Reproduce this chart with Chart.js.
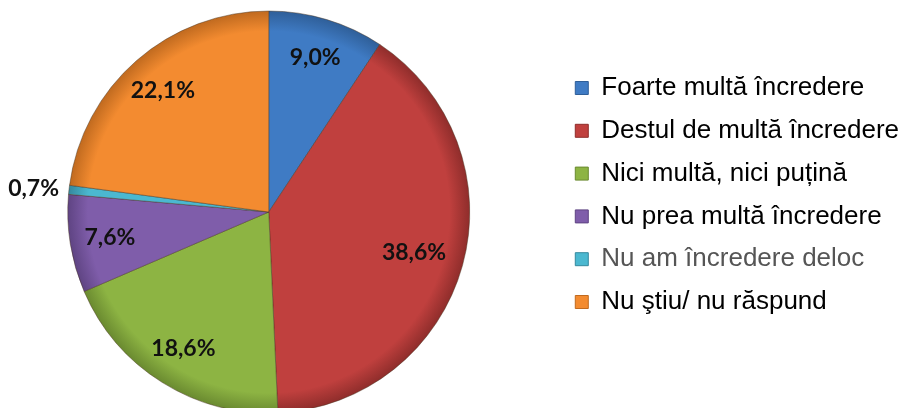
<!DOCTYPE html>
<html lang="ro">
<head>
<meta charset="UTF-8">
<title>Pie</title>
<style>
  html, body { margin: 0; padding: 0; background: #fff; }
</style>
</head>
<body>
<canvas id="myChart" width="909" height="408"></canvas>
<script src="https://cdn.jsdelivr.net/npm/chart.js@4.4.0/dist/chart.umd.min.js"></script>
<script>
const labels = ['Foarte multă încredere', 'Destul de multă încredere', 'Nici multă, nici puțină',
  'Nu prea multă încredere', 'Nu am încredere deloc', 'Nu ştiu/ nu răspund'];
const values = [9.0, 38.6, 18.6, 7.6, 0.7, 22.1];
const colors = ['#3f7bc4', '#c0403e', '#8db443', '#7f5daa', '#4bb8d0', '#f38b30'];
const edgeColors = ['#2f5f99', '#8f2d2b', '#6a8a30', '#5f4483', '#35899e', '#c06a1f'];

// percent labels inside the slices (small ones go outside)
const pctLabels = {
  id: 'pctLabels',
  afterDatasetsDraw(chart) {
    const ctx = chart.ctx;
    const meta = chart.getDatasetMeta(0);
    ctx.save();
    ctx.font = 'bold 23px Lato';
    ctx.fillStyle = '#111';
    ctx.textBaseline = 'middle';
    meta.data.forEach((arc, i) => {
      const p = arc.getProps(['x', 'y', 'startAngle', 'endAngle', 'outerRadius'], true);
      const mid = (p.startAngle + p.endAngle) / 2;
      const text = values[i].toFixed(1).replace('.', ',') + '%';
      if (values[i] < 2) {
        const r = p.outerRadius + 10;
        ctx.textAlign = 'right';
        ctx.fillText(text, p.x + r * Math.cos(mid), p.y + r * Math.sin(mid));
      } else {
        const r = p.outerRadius * (values[i] > 30 ? 0.75 : 0.8);
        ctx.textAlign = 'center';
        ctx.fillText(text, p.x + r * Math.cos(mid), p.y + r * Math.sin(mid));
      }
    });
    ctx.restore();
  }
};

// slightly darker rim, a bit like the bevelled office pie
function sliceFill(c) {
  const i = c.dataIndex;
  const area = c.chart.chartArea;
  if (!area || i === undefined) return colors[i];
  const cx = (area.left + area.right) / 2, cy = (area.top + area.bottom) / 2;
  const g = c.chart.ctx.createRadialGradient(cx, cy, 0, cx, cy, 201);
  g.addColorStop(0, colors[i]);
  g.addColorStop(0.9, colors[i]);
  g.addColorStop(1, edgeColors[i]);
  return g;
}

const ctx = document.getElementById('myChart').getContext('2d');
const chart = new Chart(ctx, {
  type: 'pie',
  data: {
    labels: labels,
    datasets: [{
      data: values,
      backgroundColor: sliceFill,
      borderColor: 'rgba(70,50,30,0.45)',
      borderWidth: 1,
      radius: 201,
      clip: false
    }]
  },
  options: {
    responsive: false,
    animation: false,
    layout: { padding: { left: 0, right: 0, top: 0, bottom: 18 } },
    plugins: {
      // blank title / subtitle only move the pie inside the canvas
      title: { display: true, text: ' ', fullSize: false, font: { size: 10, lineHeight: 1.2 }, padding: { top: 0, bottom: 22 } },
      subtitle: { display: true, text: ' ', position: 'right', weight: 500, fullSize: false, font: { size: 10, lineHeight: 1.2 }, padding: { top: 0, bottom: 9 } },
      legend: {
        position: 'right',
        maxWidth: 420,
        labels: {
          font: { family: 'Liberation Sans', size: 26 },
          color: '#000',
          boxWidth: 13,
          boxHeight: 13,
          padding: 16.8,
          generateLabels(c) {
            const items = Chart.overrides.pie.plugins.legend.labels.generateLabels(c);
            items.forEach(it => {
              it.fillStyle = colors[it.index];
              it.strokeStyle = edgeColors[it.index];
              it.fontColor = it.index === 4 ? '#555' : '#000';
              it.lineWidth = 1;
            });
            return items;
          }
        }
      },
      tooltip: { enabled: false }
    }
  },
  plugins: [pctLabels]
});
</script>
</body>
</html>
